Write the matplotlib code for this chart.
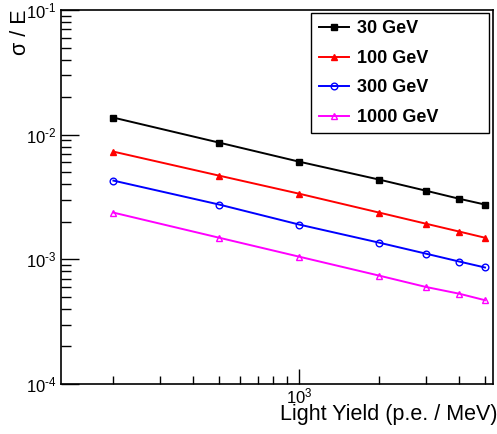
import numpy as np
import matplotlib
matplotlib.use('Agg')
import matplotlib.pyplot as plt
from matplotlib.ticker import LogLocator, NullFormatter, FuncFormatter

plt.rcParams['font.family'] = ['Liberation Sans', 'DejaVu Sans']
plt.rcParams['mathtext.fontset'] = 'custom'
plt.rcParams['mathtext.rm'] = 'Liberation Sans'
plt.rcParams['mathtext.it'] = 'Liberation Sans:italic'
plt.rcParams['mathtext.bf'] = 'Liberation Sans:bold'

# light yield in p.e./MeV
light_yield = [200, 500, 1000, 2000, 3000, 4000, 5000]

# sigma/E
res_30 = [0.0137, 0.00863, 0.00607, 0.00436, 0.00355, 0.00306, 0.00275]
res_100 = [0.00731, 0.00469, 0.00336, 0.00237, 0.00193, 0.00167, 0.00149]
res_300 = [0.00428, 0.00275, 0.00190, 0.00136, 0.00111, 0.00096, 0.00086]
res_1000 = [0.00237, 0.00149, 0.00105, 0.00074, 0.00060, 0.00053, 0.00047]

labels = ['30 GeV', '100 GeV', '300 GeV', '1000 GeV']


def root_pow10(v, pos):
    # ROOT-like 10^n labels, with a plain hyphen in the exponent
    return r'$10^{\text{%d}}$' % int(round(np.log10(v)))


fig = plt.figure(figsize=(4.97, 4.34), dpi=100)
ax = fig.add_axes([0.1227, 0.1152, 0.992 - 0.1227, 0.977 - 0.1152])

ax.plot(light_yield, res_30, color='black', lw=1.4, marker='s', ms=4.2,
        mfc='black', mec='black', label=labels[0])
ax.plot(light_yield, res_100, color='red', lw=1.4, marker='^', ms=4.5,
        mfc='red', mec='red', label=labels[1])
ax.plot(light_yield, res_300, color='blue', lw=1.4, marker='o', ms=4.8,
        mfc='none', mec='blue', mew=1.0, label=labels[2])
ax.plot(light_yield, res_1000, color='#ff00ff', lw=1.4, marker='^', ms=5,
        mfc='none', mec='#ff00ff', mew=1.0, label=labels[3])

ax.set_xscale('log')
ax.set_yscale('log')
ax.set_xlim(127, 5360)
ax.set_ylim(1e-4, 1e-1)

ax.xaxis.set_major_locator(LogLocator(base=10))
ax.xaxis.set_minor_locator(LogLocator(base=10, subs=np.arange(2, 10)))
ax.xaxis.set_minor_formatter(NullFormatter())
ax.yaxis.set_minor_locator(LogLocator(base=10, subs=np.arange(2, 10)))
ax.yaxis.set_minor_formatter(NullFormatter())
ax.xaxis.set_major_formatter(FuncFormatter(root_pow10))
ax.yaxis.set_major_formatter(FuncFormatter(root_pow10))

ax.tick_params(which='both', direction='in', top=False, right=False,
               labelsize=12, width=1)
ax.tick_params(axis='y', which='major', length=13, pad=3)
ax.tick_params(axis='y', which='minor', length=7)
ax.tick_params(axis='x', which='major', length=11, pad=2)
ax.tick_params(axis='x', which='minor', length=6)

for s in ax.spines.values():
    s.set_linewidth(1.2)

ax.set_xlabel('Light Yield (p.e. / MeV)', fontsize=15.5, loc='right')
ax.xaxis.set_label_coords(1.01, -0.053)
ax.set_ylabel('σ / E', fontsize=15.5, loc='top')
ax.yaxis.set_label_coords(-0.069, 1.0)

leg = ax.legend(loc='upper left', bbox_to_anchor=(0.5797, 0.5, 0.411, 0.492),
                mode='expand', prop={'weight': 'bold', 'size': 13},
                fancybox=False, framealpha=1, edgecolor='black',
                handlelength=1.67, handletextpad=0.45, borderpad=0.4,
                labelspacing=0.7, borderaxespad=0)
leg.get_frame().set_linewidth(1.0)

fig.savefig('out.png', dpi=100)
